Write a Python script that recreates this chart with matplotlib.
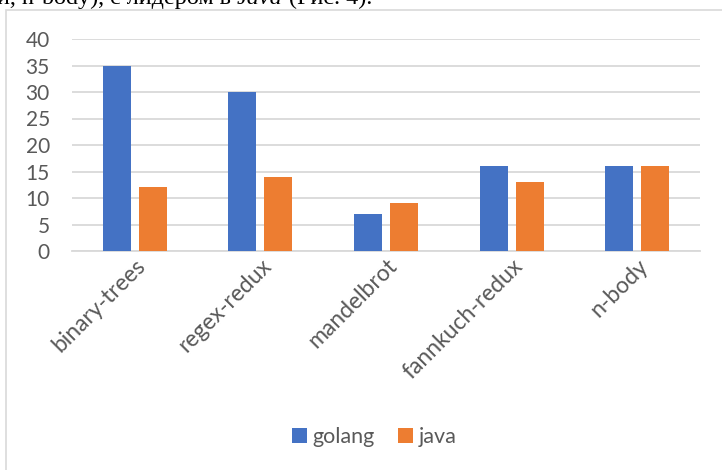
import numpy as np
import matplotlib.pyplot as plt
from matplotlib.patches import Rectangle

benchmarks = ['binary-trees', 'regex-redux', 'mandelbrot', 'fannkuch-redux', 'n-body']
golang = [35, 30, 7, 16, 16]
java = [12, 14, 9, 13, 16]

GO_COLOR = '#4472C4'
JAVA_COLOR = '#ED7D31'
TEXT_COLOR = '#595959'
GRID_COLOR = '#D9D9D9'

plt.rcParams['font.family'] = ['Lato', 'DejaVu Sans']

fig = plt.figure(figsize=(7.22, 4.70), dpi=100)
ax = fig.add_axes([72 / 722, 1 - 251 / 470, 628 / 722, 212 / 470])

x = np.arange(len(benchmarks))
w = 0.223
gap = 0.064
ax.bar(x - (w + gap) / 2, golang, w, color=GO_COLOR, label='golang', zorder=3)
ax.bar(x + (w + gap) / 2, java, w, color=JAVA_COLOR, label='java', zorder=3)

ax.set_xlim(-0.5, len(benchmarks) - 0.5)
ax.set_ylim(0, 40)
ax.set_yticks(range(0, 41, 5))
ax.yaxis.grid(True, color=GRID_COLOR, lw=1.3, zorder=0)
for s in ['top', 'right', 'left']:
    ax.spines[s].set_visible(False)
ax.spines['bottom'].set_color(GRID_COLOR)
ax.spines['bottom'].set_linewidth(1.3)
ax.tick_params(axis='both', length=0, colors=TEXT_COLOR)
ax.tick_params(axis='y', pad=16, labelsize=15)
ax.set_xticks(x)
ax.set_xticklabels(benchmarks, rotation=45, ha='right', rotation_mode='anchor')
ax.tick_params(axis='x', pad=3, labelsize=16.5)

leg = fig.legend(loc='center', bbox_to_anchor=(374 / 722, 1 - 437 / 470), ncol=2,
                 frameon=False, fontsize=15.5, handlelength=0.7, handleheight=0.7,
                 handletextpad=0.25, columnspacing=1.1, labelcolor=TEXT_COLOR)

# chart frame (runs off the right and bottom edges)
fig.patches.append(Rectangle((6 / 722, -0.1), 1.0, 1.1 - 10 / 470,
                             transform=fig.transFigure, fill=False,
                             edgecolor=GRID_COLOR, lw=1.2))

# clipped document text above the chart
parts = [('и, n-body), с лидером в ', 'normal'), ('Java', 'italic'), (' (Рис. 4).', 'normal')]
renderer = fig.canvas.get_renderer()
xpos = -3
for txt, style in parts:
    t = fig.text(xpos / 722, 1 - 4 / 470, txt, fontsize=17.4, family='Liberation Serif',
                 style=style, color='black', va='baseline', ha='left')
    xpos += t.get_window_extent(renderer).width

fig.savefig('out.png', dpi=100)
